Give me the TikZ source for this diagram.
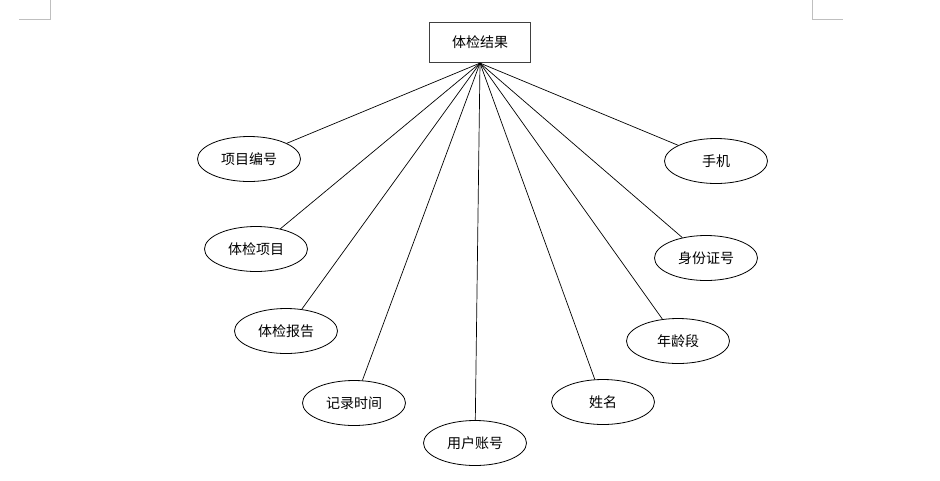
\documentclass[tikz,border=0pt]{standalone}
\usepackage{fontspec}
\setmainfont{Noto Sans CJK SC}
\usetikzlibrary{shapes.geometric}
\begin{document}
\begin{tikzpicture}[x=1pt,y=-1pt,
  attr/.style={draw=black,line width=0.8pt,ellipse,minimum width=103pt,minimum height=45pt,inner sep=0pt,font=\fontsize{14}{16}\selectfont},
  ent/.style={draw=black!75,line width=1.2pt,rectangle,minimum width=101pt,minimum height=40pt,inner sep=0pt,font=\fontsize{14}{16}\selectfont},
  link/.style={draw=black,line width=0.7pt},
  cornermark/.style={draw=black!25,line width=1pt}]
\useasboundingbox (0,0) rectangle (940,480);
\node[ent] (top) at (480,42.5) {体检结果};
\node[attr] (a1) at (249,159) {项目编号};
\node[attr] (a2) at (256,249) {体检项目};
\node[attr] (a3) at (286,331) {体检报告};
\node[attr] (a4) at (354,403) {记录时间};
\node[attr] (a5) at (475,443) {用户账号};
\node[attr] (a6) at (603,402) {姓名};
\node[attr] (a7) at (678,341) {年龄段};
\node[attr] (a8) at (706,258) {身份证号};
\node[attr] (a9) at (716,161) {手机};
\foreach \n in {a1,a2,a3,a4,a5,a6,a7,a8,a9}
  \draw[link] (top.south) -- (\n);
\coordinate (m1a) at (50,0);
\coordinate (m1b) at (50,19.5);
\coordinate (m1c) at (19,19.5);
\draw[cornermark] (m1a) -- (m1b) -- (m1c);
\coordinate (m2a) at (812,0);
\coordinate (m2b) at (812,19.5);
\coordinate (m2c) at (843,19.5);
\draw[cornermark] (m2a) -- (m2b) -- (m2c);
\end{tikzpicture}
\end{document}
